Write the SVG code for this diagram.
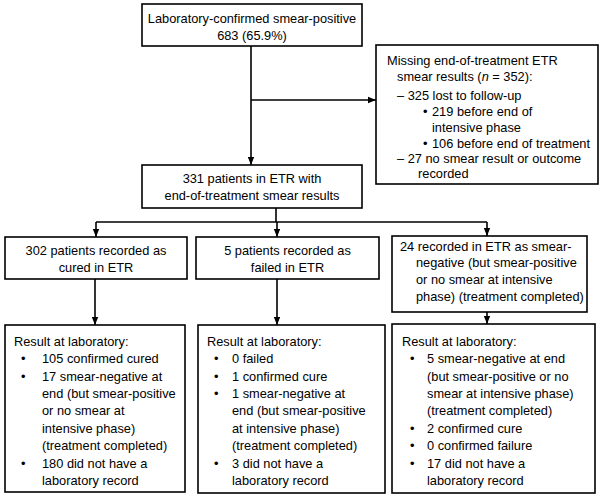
<svg xmlns="http://www.w3.org/2000/svg" width="601" height="498" viewBox="0 0 601 498">
<style>
.box{fill:#fff;stroke:#000;stroke-width:1.6}
.t{font-family:"Liberation Sans",Arial,sans-serif;font-size:12.8px;fill:#000}
.c{text-anchor:middle}
.ln{stroke:#000;stroke-width:1.6;fill:none}
</style>
<defs>
<marker id="ah" markerUnits="userSpaceOnUse" markerWidth="8" markerHeight="8" viewBox="0 0 8 8" refX="8" refY="4" orient="auto">
<path d="M0,0.8 L8,4 L0,7.2 Z" fill="#000"/>
</marker>
</defs>
<rect width="601" height="498" fill="#fff"/>
<g id="connectors">
<line class="ln" x1="251" y1="46" x2="251" y2="165" marker-end="url(#ah)"/>
<line class="ln" x1="251" y1="100" x2="376" y2="100" marker-end="url(#ah)"/>
<line class="ln" x1="276" y1="208" x2="276" y2="222"/>
<line class="ln" x1="96" y1="222" x2="487" y2="222"/>
<line class="ln" x1="96" y1="222" x2="96" y2="237" marker-end="url(#ah)"/>
<line class="ln" x1="277" y1="222" x2="277" y2="237" marker-end="url(#ah)"/>
<line class="ln" x1="487" y1="222" x2="487" y2="236" marker-end="url(#ah)"/>
<line class="ln" x1="95" y1="279" x2="95" y2="325" marker-end="url(#ah)"/>
<line class="ln" x1="277" y1="279" x2="277" y2="325" marker-end="url(#ah)"/>
<line class="ln" x1="487" y1="312" x2="487" y2="324" marker-end="url(#ah)"/>
</g>
<g id="n-top">
<rect class="box" x="142" y="4" width="220" height="42"/>
<text class="t c" x="252" y="22.5">Laboratory-confirmed smear-positive</text>
<text class="t c" x="252" y="39.5">683 (65.9%)</text>
</g>
<g id="n-missing">
<rect class="box" x="376" y="45" width="222" height="139"/>
<text class="t" x="387" y="65">Missing end-of-treatment ETR</text>
<text class="t" x="397" y="81">smear results (<tspan font-style="italic">n</tspan> = 352):</text>
<text class="t" x="397" y="100">– 325 lost to follow-up</text>
<text class="t" x="423" y="116">•</text>
<text class="t" x="432" y="116">219 before end of</text>
<text class="t" x="432" y="132">intensive phase</text>
<text class="t" x="423" y="148">•</text>
<text class="t" x="432" y="148">106 before end of treatment</text>
<text class="t" x="397" y="163">– 27 no smear result or outcome</text>
<text class="t" x="418" y="178">recorded</text>
</g>
<g id="n-etr">
<rect class="box" x="142" y="165" width="220" height="43"/>
<text class="t c" x="252" y="182.5">331 patients in ETR with</text>
<text class="t c" x="252" y="199.5">end-of-treatment smear results</text>
</g>
<g id="n-cured">
<rect class="box" x="5" y="237" width="182" height="42"/>
<text class="t c" x="96" y="254.5">302 patients recorded as</text>
<text class="t c" x="96" y="271.5">cured in ETR</text>
</g>
<g id="n-failed">
<rect class="box" x="196" y="237" width="183" height="42"/>
<text class="t c" x="287.5" y="254.5">5 patients recorded as</text>
<text class="t c" x="287.5" y="271.5">failed in ETR</text>
</g>
<g id="n-neg">
<rect class="box" x="392" y="236" width="195" height="76"/>
<text class="t" x="400" y="250.5">24 recorded in ETR as smear-</text>
<text class="t" x="416" y="267">negative (but smear-positive</text>
<text class="t" x="416" y="284">or no smear at intensive</text>
<text class="t" x="416" y="300.5">phase) (treatment completed)</text>
</g>
<g id="n-lab1">
<rect class="box" x="5" y="325" width="180" height="167"/>
<text class="t" x="14" y="346">Result at laboratory:</text>
<text class="t" x="21" y="362.5">•</text>
<text class="t" x="42" y="362.5">105 confirmed cured</text>
<text class="t" x="21" y="380.5">•</text>
<text class="t" x="42" y="380.5">17 smear-negative at</text>
<text class="t" x="42" y="397.5">end (but smear-positive</text>
<text class="t" x="42" y="415">or no smear at</text>
<text class="t" x="42" y="432.5">intensive phase)</text>
<text class="t" x="42" y="450">(treatment completed)</text>
<text class="t" x="21" y="467.5">•</text>
<text class="t" x="42" y="467.5">180 did not have a</text>
<text class="t" x="42" y="484.5">laboratory record</text>
</g>
<g id="n-lab2">
<rect class="box" x="198" y="325" width="187" height="168"/>
<text class="t" x="207" y="346">Result at laboratory:</text>
<text class="t" x="214" y="362.5">•</text>
<text class="t" x="232" y="362.5">0 failed</text>
<text class="t" x="214" y="380.5">•</text>
<text class="t" x="232" y="380.5">1 confirmed cure</text>
<text class="t" x="214" y="397.5">•</text>
<text class="t" x="232" y="397.5">1 smear-negative at</text>
<text class="t" x="232" y="415">end (but smear-positive</text>
<text class="t" x="232" y="432.5">at intensive phase)</text>
<text class="t" x="232" y="450">(treatment completed)</text>
<text class="t" x="214" y="467.5">•</text>
<text class="t" x="232" y="467.5">3 did not have a</text>
<text class="t" x="232" y="484.5">laboratory record</text>
</g>
<g id="n-lab3">
<rect class="box" x="392" y="324" width="203" height="169"/>
<text class="t" x="402" y="346">Result at laboratory:</text>
<text class="t" x="410" y="362.5">•</text>
<text class="t" x="427" y="362.5">5 smear-negative at end</text>
<text class="t" x="427" y="380.5">(but smear-positive or no</text>
<text class="t" x="427" y="397.5">smear at intensive phase)</text>
<text class="t" x="427" y="415">(treatment completed)</text>
<text class="t" x="410" y="432.5">•</text>
<text class="t" x="427" y="432.5">2 confirmed cure</text>
<text class="t" x="410" y="450">•</text>
<text class="t" x="427" y="450">0 confirmed failure</text>
<text class="t" x="410" y="467.5">•</text>
<text class="t" x="427" y="467.5">17 did not have a</text>
<text class="t" x="427" y="484.5">laboratory record</text>
</g>
</svg>
